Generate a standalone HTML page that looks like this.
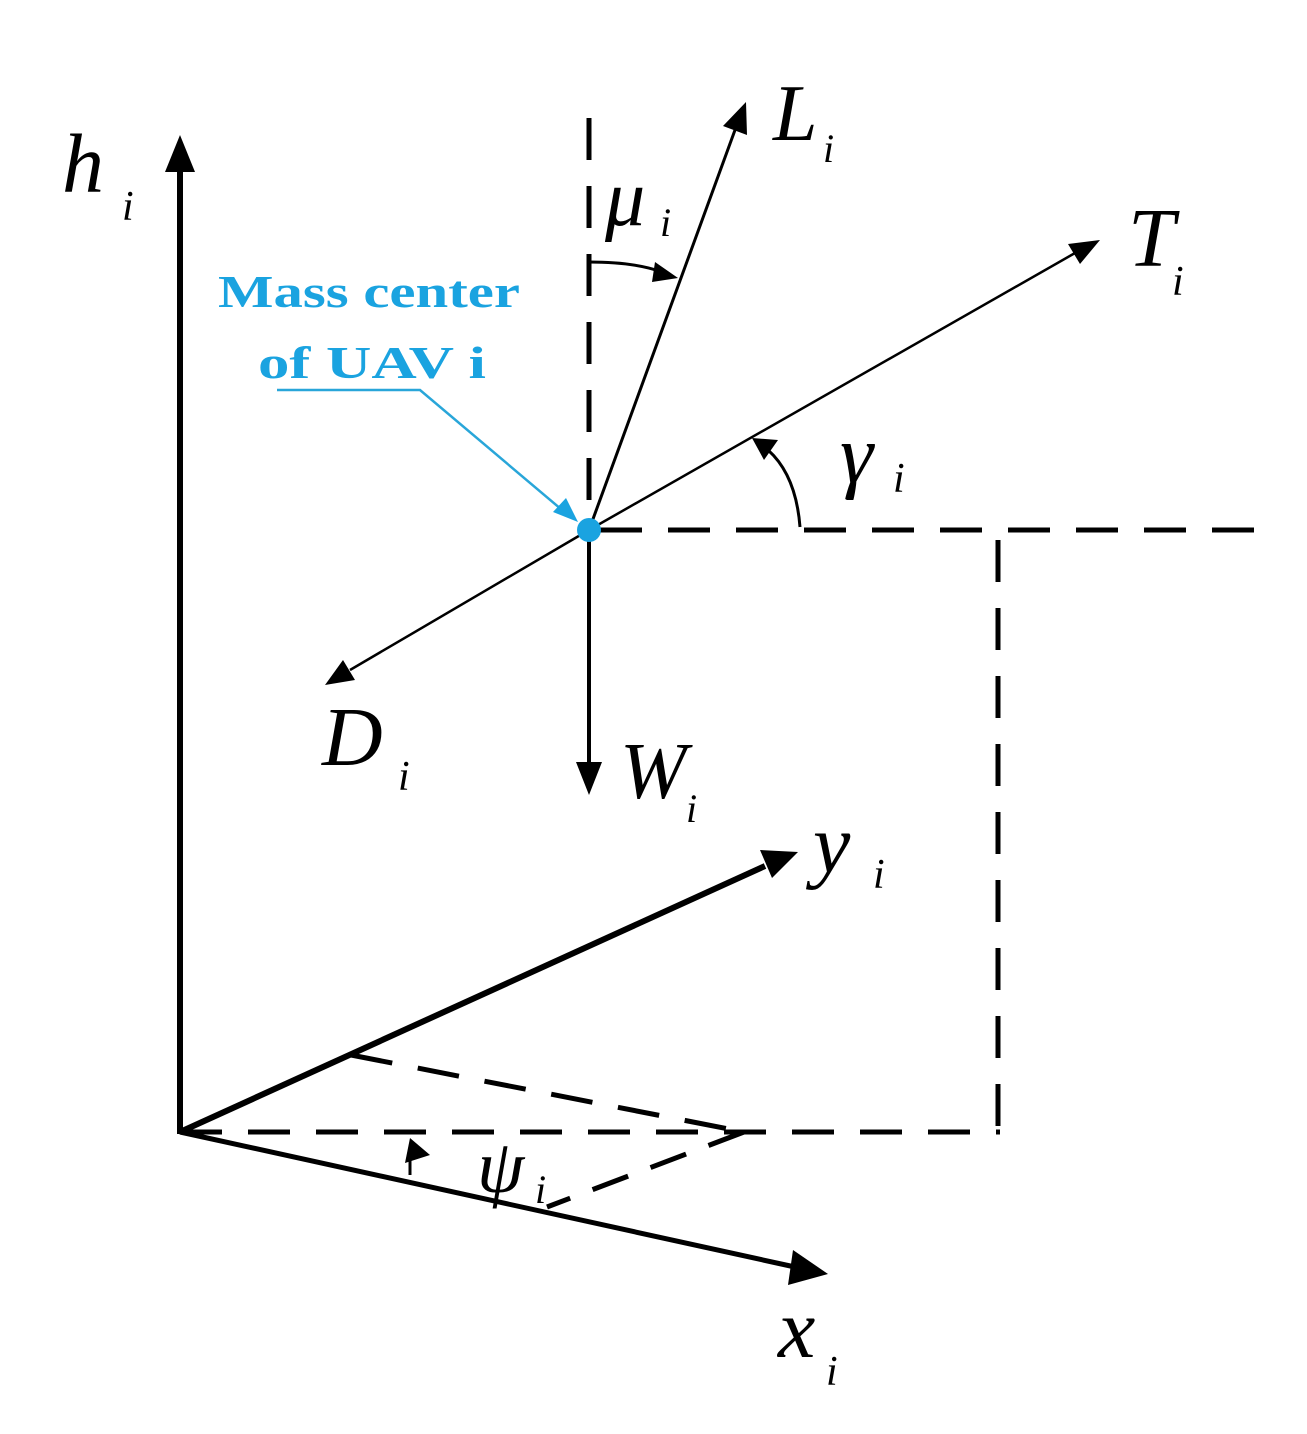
<!DOCTYPE html>
<html><head><style>body{margin:0;background:#fff}svg{display:block}</style></head><body>
<svg width="1307" height="1434" viewBox="0 0 1307 1434" xmlns="http://www.w3.org/2000/svg" font-family="Liberation Serif, serif">
<g stroke="#000" fill="none">
<line x1="180" y1="1134" x2="180" y2="170" stroke-width="6"/>
<path d="M180,135 L195,172 L165,172 z" fill="#000" stroke="none"/>
<line x1="180" y1="1132" x2="765" y2="866" stroke-width="6"/>
<path d="M798,852 L760,850 L772,878 z" fill="#000" stroke="none"/>
<line x1="180" y1="1132" x2="795" y2="1267" stroke-width="5"/>
<path d="M828,1274 L793,1250 L788,1285 z" fill="#000" stroke="none"/>
<g stroke-width="5" stroke-dasharray="42,26">
<line x1="180" y1="1132" x2="1000" y2="1132"/>
<line x1="998" y1="540" x2="998" y2="1132"/>
<line x1="600" y1="530" x2="1258" y2="530"/>
<line x1="589" y1="118" x2="589" y2="525"/>
<line x1="351" y1="1055" x2="744" y2="1132"/>
<line x1="744" y1="1132" x2="547" y2="1207" stroke-dasharray="38,24"/>
</g>
<line x1="410" y1="1175" x2="410" y2="1150" stroke-width="3"/>
<path d="M410,1138 L430,1155 L405,1163 z" fill="#000" stroke="none"/>
<line x1="589" y1="530" x2="589" y2="765" stroke-width="4"/>
<path d="M589,795 L576,762 L602,762 z" fill="#000" stroke="none"/>
<line x1="589" y1="530" x2="735" y2="130" stroke-width="3"/>
<path d="M746,102 L747,135 L723,126 z" fill="#000" stroke="none"/>
<line x1="589" y1="530" x2="1075" y2="253" stroke-width="2.5"/>
<path d="M1100,240 L1080,264 L1068,244 z" fill="#000" stroke="none"/>
<line x1="589" y1="530" x2="350" y2="670" stroke-width="2.5"/>
<path d="M325,685 L343,660 L355,680 z" fill="#000" stroke="none"/>
<path d="M589,262 Q635,262 662,272" stroke-width="3"/>
<path d="M678,278 L655,262 L652,282 z" fill="#000" stroke="none"/>
<path d="M800,527 Q796,475 768,450" stroke-width="3"/>
<path d="M752,438 L778,440 L764,460 z" fill="#000" stroke="none"/>
<polyline points="277,390 420,390 568,515" stroke="#29a6d9" stroke-width="2.5"/>
</g>
<path d="M578,522 L553,512 L566,498 z" fill="#1aa3e0"/>
<circle cx="589" cy="530" r="12" fill="#1aa3e0"/>
<g fill="#1aa3e0" font-weight="bold" font-size="46">
<text x="218" y="307" textLength="302" lengthAdjust="spacingAndGlyphs">Mass center</text>
<text x="258" y="378" textLength="228" lengthAdjust="spacingAndGlyphs">of UAV i</text>
</g>
<g font-style="italic" fill="#000">
<text x="62" y="192" font-size="84">h</text><text x="122" y="220" font-size="42">i</text>
<text x="773" y="140" font-size="80">L</text><text x="823" y="162" font-size="40">i</text>
<text x="605" y="225" font-size="80">μ</text><text x="660" y="236" font-size="40">i</text>
<text x="1128" y="266" font-size="84">T</text><text x="1172" y="295" font-size="42">i</text>
<text x="840" y="482" font-size="84">γ</text><text x="893" y="492" font-size="42">i</text>
<text x="322" y="765" font-size="84">D</text><text x="398" y="790" font-size="42">i</text>
<text x="620" y="798" font-size="80">W</text><text x="686" y="822" font-size="40">i</text>
<text x="813" y="872" font-size="84">y</text><text x="873" y="888" font-size="42">i</text>
<text x="477" y="1192" font-size="76">ψ</text><text x="535" y="1203" font-size="40">i</text>
<text x="778" y="1357" font-size="84">x</text><text x="826" y="1385" font-size="42">i</text>
</g>
</svg>
</body></html>
